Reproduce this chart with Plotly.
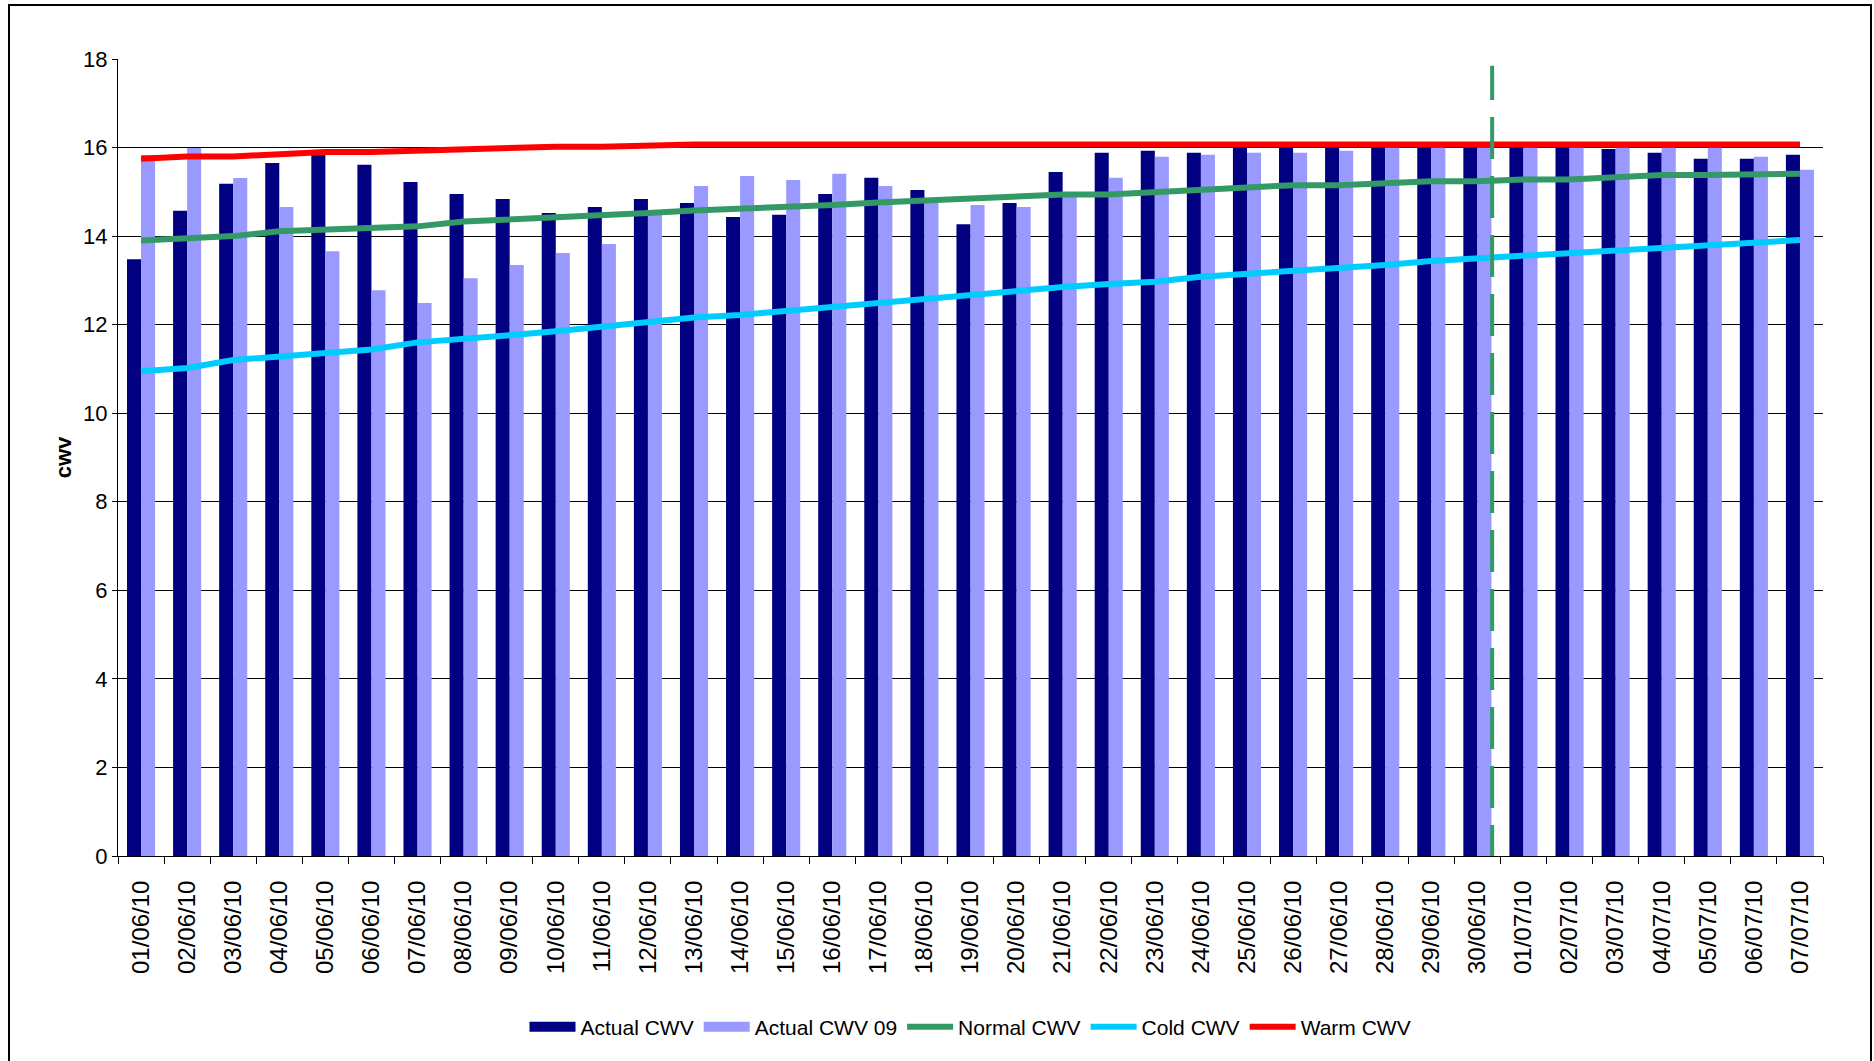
import plotly.graph_objects as go

# ---------------- data ----------------
dates = ["01/06/10", "02/06/10", "03/06/10", "04/06/10", "05/06/10", "06/06/10", "07/06/10",
         "08/06/10", "09/06/10", "10/06/10", "11/06/10", "12/06/10", "13/06/10", "14/06/10",
         "15/06/10", "16/06/10", "17/06/10", "18/06/10", "19/06/10", "20/06/10", "21/06/10",
         "22/06/10", "23/06/10", "24/06/10", "25/06/10", "26/06/10", "27/06/10", "28/06/10",
         "29/06/10", "30/06/10", "01/07/10", "02/07/10", "03/07/10", "04/07/10", "05/07/10",
         "06/07/10", "07/07/10"]

actual_cwv = [13.48, 14.57, 15.18, 15.65, 15.85, 15.61, 15.22, 14.95, 14.84, 14.52, 14.66, 14.84,
              14.75, 14.43, 14.48, 14.95, 15.32, 15.04, 14.27, 14.75, 15.45, 15.88, 15.93, 15.88,
              16.0, 16.04, 16.04, 16.05, 16.05, 16.05, 16.05, 16.05, 15.97, 15.88, 15.75, 15.75,
              15.84]

actual_cwv_09 = [15.83, 15.99, 15.31, 14.66, 13.66, 12.78, 12.49, 13.05, 13.35, 13.62, 13.82, 14.55,
                 15.13, 15.36, 15.27, 15.41, 15.13, 14.8, 14.7, 14.66, 14.9, 15.32, 15.79, 15.84,
                 15.88, 15.88, 15.93, 16.0, 16.0, 16.0, 16.0, 16.0, 16.0, 16.0, 16.0, 15.79,
                 15.5]

normal_cwv = [13.9, 13.96, 14.0, 14.11, 14.14, 14.18, 14.22, 14.33, 14.37, 14.41, 14.46, 14.52,
              14.58, 14.61, 14.65, 14.7, 14.76, 14.8, 14.84, 14.89, 14.94, 14.94, 14.99, 15.04,
              15.1, 15.15, 15.15, 15.19, 15.24, 15.24, 15.28, 15.28, 15.33, 15.38, 15.38, 15.41,
              15.41]

cold_cwv = [10.95, 11.02, 11.2, 11.27, 11.35, 11.44, 11.6, 11.67, 11.76, 11.85, 11.96, 12.06,
            12.16, 12.22, 12.31, 12.4, 12.51, 12.6, 12.67, 12.76, 12.85, 12.92, 12.97, 13.08,
            13.14, 13.23, 13.28, 13.35, 13.44, 13.5, 13.57, 13.63, 13.67, 13.76, 13.8, 13.85,
            13.91]

warm_cwv = [15.75, 15.8, 15.8, 15.85, 15.9, 15.9, 15.93, 15.97, 15.97, 16.02, 16.02, 16.06,
            16.07, 16.07, 16.07, 16.07, 16.07, 16.07, 16.07, 16.07, 16.07, 16.07, 16.07, 16.07,
            16.07, 16.07, 16.07, 16.07, 16.07, 16.07, 16.07, 16.07, 16.07, 16.07, 16.07, 16.07,
            16.07]

y_ticks = [0, 2, 4, 6, 8, 10, 12, 14, 16, 18]
forecast_split = 29.32   # category position of the dashed separator (right after 30/06/10 bars)

# ---------------- layout constants ----------------
W, H = 1874, 1061
ML, MR, MT, MB = 118, 51, 59, 205
PW, PH = W - ML - MR, H - MT - MB
FONT = "Liberation Sans, Arial, sans-serif"

DARK, LIGHT = "#000080", "#9999FF"

fig = go.Figure()
fig.add_trace(go.Bar(x=dates, y=actual_cwv, name="Actual CWV", showlegend=False,
                     legendgroup="a", marker=dict(color=DARK, line_width=0)))
fig.add_trace(go.Bar(x=dates, y=actual_cwv_09, name="Actual CWV 09", showlegend=False,
                     legendgroup="b", marker=dict(color=LIGHT, line_width=0)))
# legend-only entries so the bar keys are drawn as wide rectangles, as in the original
fig.add_trace(go.Scatter(x=[None], y=[None], name="Actual CWV", mode="lines", legendgroup="a",
                         line=dict(color=DARK, width=17)))
fig.add_trace(go.Scatter(x=[None], y=[None], name="Actual CWV 09", mode="lines", legendgroup="b",
                         line=dict(color=LIGHT, width=17)))
fig.add_trace(go.Scatter(x=dates, y=normal_cwv, name="Normal CWV", mode="lines",
                         line=dict(color="#339966", width=6)))
fig.add_trace(go.Scatter(x=dates, y=cold_cwv, name="Cold CWV", mode="lines",
                         line=dict(color="#00CCFF", width=6)))
fig.add_trace(go.Scatter(x=dates, y=warm_cwv, name="Warm CWV", mode="lines",
                         line=dict(color="#FF0000", width=6)))

def px_x(p):
    return (p - ML) / PW

def px_y(p):
    return (H - MB - p) / PH

shapes = [
    # dashed vertical separator
    dict(type="line", xref="x", yref="y", x0=forecast_split, x1=forecast_split,
         y0=-0.25, y1=17.85, line=dict(color="#339966", width=4, dash="42px,17px"), layer="above"),
    # outer chart border
    dict(type="rect", xref="paper", yref="paper", x0=px_x(9), x1=px_x(1871),
         y0=px_y(1080), y1=px_y(5), line=dict(color="black", width=2), fillcolor="rgba(0,0,0,0)",
         layer="above"),
]

fig.update_layout(
    width=W, height=H,
    margin=dict(l=ML, r=MR, t=MT, b=MB, autoexpand=False),
    paper_bgcolor="white", plot_bgcolor="white",
    barmode="group", bargap=0.39, bargroupgap=0,
    font=dict(family=FONT, color="black"),
    showlegend=True,
    legend=dict(orientation="h", x=0.5, xanchor="center", y=px_y(1027), yanchor="middle",
                font=dict(size=21, family=FONT), bgcolor="rgba(0,0,0,0)",
                itemwidth=46, tracegroupgap=0),
    shapes=shapes,
    xaxis=dict(type="category", tickangle=-90, tickfont=dict(size=24, family=FONT),
               showline=True, linecolor="black", linewidth=1,
               ticks="outside", ticklen=7, tickcolor="black", tickson="boundaries",
               showgrid=False, automargin=False, ticklabelstandoff=14),
    yaxis=dict(range=[0, 18], tickvals=y_ticks, tickfont=dict(size=22, family=FONT),
               showline=True, linecolor="black", linewidth=1,
               ticks="outside", ticklen=5, tickcolor="black",
               showgrid=True, gridcolor="black", gridwidth=1, zeroline=False,
               automargin=False,
               title=dict(text="<b>cwv</b>", font=dict(size=22, family=FONT), standoff=5)),
)

fig.write_html("out.html", config={"displayModeBar": False},
               post_script="document.body.style.margin='0';document.body.style.overflow='hidden';")
